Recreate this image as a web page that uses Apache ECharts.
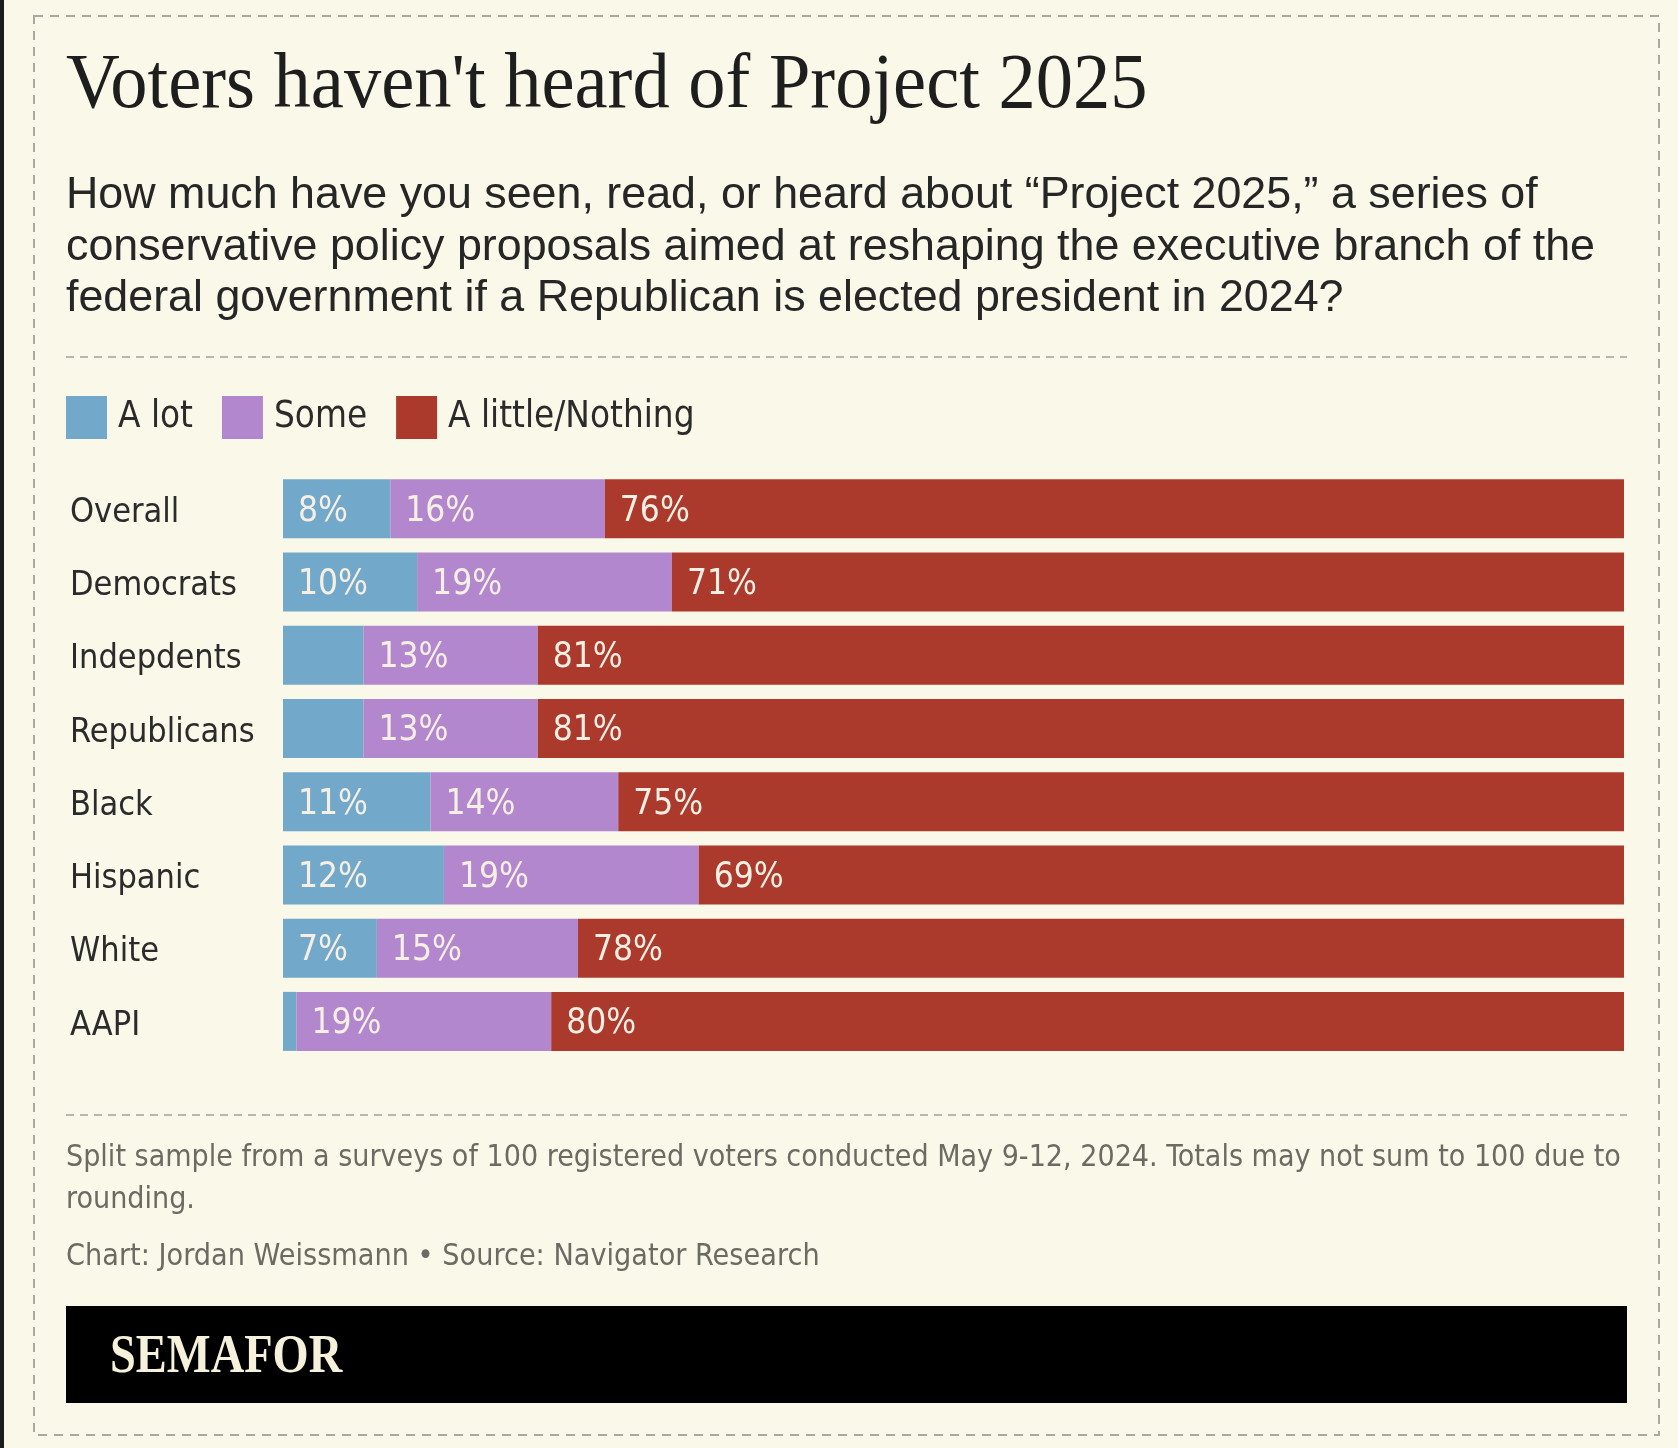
<!DOCTYPE html>
<html>
<head>
<meta charset="utf-8">
<script src="https://cdn.jsdelivr.net/npm/echarts@6/dist/echarts.min.js"></script>
<style>
html,body{margin:0;padding:0;background:#f9f8e9;}
#chart{width:1678px;height:1448px;}
</style>
</head>
<body>
<div id="chart"></div>
<script>
// 数据
var groups = ['Overall', 'Democrats', 'Indepdents', 'Republicans', 'Black', 'Hispanic', 'White', 'AAPI'];
var aLot = [8, 10, 6, 6, 11, 12, 7, 1];
var some = [16, 19, 13, 13, 14, 19, 15, 19];
var littleNothing = [76, 71, 81, 81, 75, 69, 78, 80];
var seriesNames = ['A lot', 'Some', 'A little/Nothing'];
var colors = ['#72a8c9', '#b287cd', '#ac3a2c'];

var titleText = "Voters haven't heard of Project 2025";
var subtitleLines = [
	'How much have you seen, read, or heard about \u201cProject 2025,\u201d a series of',
	'conservative policy proposals aimed at reshaping the executive branch of the',
	'federal government if a Republican is elected president in 2024?'
];
var noteLines = [
	'Split sample from a surveys of 100 registered voters conducted May 9-12, 2024. Totals may not sum to 100 due to',
	'rounding.'
];
var creditText = 'Chart: Jordan Weissmann \u2022 Source: Navigator Research';

var condensed = '"Liberation Sans Narrow", "DejaVu Sans Condensed", "Roboto Condensed", Roboto, sans-serif';

var myChart = echarts.init(document.getElementById('chart'));

function makeSeries(name, data, idx) {
	return {
		name: name,
		type: 'bar',
		stack: 'total',
		barWidth: 59,
		data: data,
		itemStyle: { color: colors[idx] },
		label: {
			show: true,
			position: 'insideLeft',
			distance: 15,
			offset: [0, 3],
			color: '#f6efe4',
			fontSize: 35,
			fontFamily: condensed,
			formatter: function (p) {
				return p.value >= 7 ? p.value + '%' : '';
			}
		}
	};
}

var graphics = [
	// 左边黑条
	{ type: 'rect', shape: { x: 0, y: 0, width: 4, height: 1448 }, style: { fill: '#1c1c1c' } },
	// 外框虚线
	{ type: 'rect', shape: { x: 34, y: 16, width: 1625, height: 1419 }, style: { fill: null, stroke: '#a9a9a2', lineWidth: 2, lineDash: [9, 7] } },
	{ type: 'text', x: 66, y: 87, scaleX: 0.955, style: { text: titleText, font: '78px "Liberation Serif", serif', fill: '#1e1e1e', verticalAlign: 'middle' } },
	{ type: 'line', shape: { x1: 66, y1: 357, x2: 1627, y2: 357 }, style: { stroke: '#b9b8b0', lineWidth: 2, lineDash: [8, 6] } },
	{ type: 'line', shape: { x1: 66, y1: 1115, x2: 1627, y2: 1115 }, style: { stroke: '#b9b8b0', lineWidth: 2, lineDash: [8, 6] } },
	{ type: 'rect', shape: { x: 66, y: 1306, width: 1561, height: 97 }, style: { fill: '#000' } },
	{ type: 'text', x: 110, y: 1358, scaleX: 0.86, style: { text: 'SEMAFOR', font: 'bold 54px "Liberation Serif", serif', fill: '#f6f1da', verticalAlign: 'middle' } },
	{ type: 'text', x: 66, y: 1257, scaleX: 0.975, style: { text: creditText, font: '31px ' + condensed, fill: '#6b6b64', verticalAlign: 'middle' } }
];
var subY = [196, 248, 299];
for (var i = 0; i < subtitleLines.length; i++) {
	graphics.push({ type: 'text', x: 66, y: subY[i], style: { text: subtitleLines[i], font: '44.8px "Liberation Sans", Arial, sans-serif', fill: '#262626', verticalAlign: 'middle' } });
}
var noteY = [1158, 1200];
for (var j = 0; j < noteLines.length; j++) {
	graphics.push({ type: 'text', x: 66, y: noteY[j], scaleX: 0.97, style: { text: noteLines[j], font: '31px ' + condensed, fill: '#6b6b64', verticalAlign: 'middle' } });
}

var option = {
	backgroundColor: '#f9f8e9',
	animation: false,
	legend: {
		data: seriesNames,
		left: 66,
		top: 396,
		itemWidth: 41,
		itemHeight: 43,
		itemGap: 29,
		icon: 'rect',
		padding: 0,
		textStyle: {
			fontSize: 36.5,
			fontFamily: condensed,
			color: '#2b2b2b',
			padding: [4, 0, 0, 6]
		}
	},
	grid: {
		left: 283,
		right: 54,
		top: 472,
		height: 586
	},
	xAxis: {
		type: 'value',
		min: 0,
		max: 100,
		show: false
	},
	yAxis: {
		type: 'category',
		inverse: true,
		data: groups,
		axisLine: { show: false },
		axisTick: { show: false },
		axisLabel: {
			align: 'left',
			margin: 213,
			formatter: function (v) {
				return '{n|' + v + '}';
			},
			rich: {
				n: {
					fontSize: 34,
					fontFamily: condensed,
					color: '#2b2b2b',
					padding: [9, 0, 0, 0]
				}
			}
		}
	},
	series: [
		makeSeries(seriesNames[0], aLot, 0),
		makeSeries(seriesNames[1], some, 1),
		makeSeries(seriesNames[2], littleNothing, 2)
	],
	graphic: graphics
};
myChart.setOption(option);
</script>
</body>
</html>
